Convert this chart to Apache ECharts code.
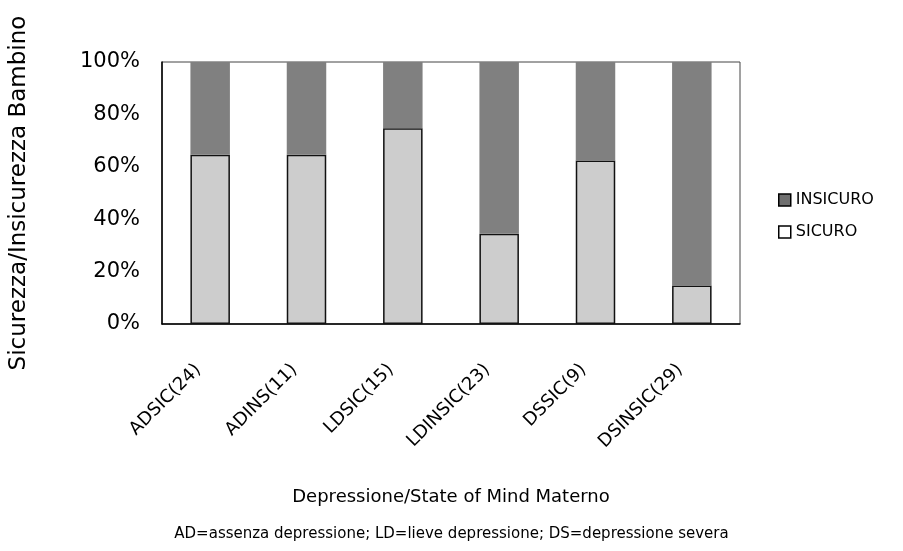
<!DOCTYPE html>
<html>
<head>
<meta charset="utf-8">
<script src="https://cdn.jsdelivr.net/npm/echarts@6/dist/echarts.min.js"></script>
<style>
  html, body { margin: 0; padding: 0; background: #fff; }
  #chart { width: 903px; height: 551px; }
</style>
</head>
<body>
<div id="chart"></div>
<script>
// Groups: maternal depression level x state of mind (sample size in brackets)
const categories = ['ADSIC(24)', 'ADINS(11)', 'LDSIC(15)', 'LDINSIC(23)', 'DSSIC(9)', 'DSINSIC(29)'];
// Share of children classified as secure / insecure (%)
const sicuro   = [64.6, 64.6, 74.7, 34.4, 62.4, 14.7];
const insicuro = [35.4, 35.4, 25.3, 65.6, 37.6, 85.3];
const yTicks = [0, 20, 40, 60, 80, 100];

const FONT = '"DejaVu Sans", sans-serif';
const chart = echarts.init(document.getElementById('chart'), null, { renderer: 'canvas' });

chart.setOption({
  animation: false,
  backgroundColor: '#ffffff',
  textStyle: { fontFamily: FONT, color: '#000' },
  grid: {
    left: 160, right: 163, top: 62, bottom: 227,
    show: true, borderColor: '#444', borderWidth: 1, backgroundColor: 'transparent'
  },
  legend: {
    orient: 'vertical',
    left: 773, top: 187,
    icon: 'rect',
    itemWidth: 12, itemHeight: 12, itemGap: 16,
    textStyle: { fontFamily: FONT, fontSize: 16, color: '#000' },
    data: [
      { name: 'INSICURO', itemStyle: { color: '#6f6f6f', borderColor: '#000', borderWidth: 1.5 } },
      { name: 'SICURO', itemStyle: { color: '#ffffff', borderColor: '#000', borderWidth: 1.5 } }
    ]
  },
  xAxis: {
    type: 'category',
    data: categories,
    name: 'Depressione/State of Mind Materno',
    nameLocation: 'middle',
    nameGap: 164,
    nameTextStyle: { fontFamily: FONT, fontSize: 18, color: '#000' },
    axisLine: { show: true, lineStyle: { color: '#000', width: 1.5 } },
    axisTick: { show: false },
    axisLabel: {
      rotate: 45, margin: 31, padding: [0, 17, 0, 0],
      fontFamily: FONT, fontSize: 18, color: '#000'
    }
  },
  yAxis: {
    type: 'value',
    min: 0, max: 100, interval: 20,
    name: 'Sicurezza/Insicurezza Bambino',
    nameLocation: 'middle',
    nameGap: 131,
    nameTextStyle: { fontFamily: FONT, fontSize: 23, color: '#000' },
    axisLine: { show: true, lineStyle: { color: '#000', width: 1.5 } },
    axisTick: { show: false },
    splitLine: { show: false },
    axisLabel: {
      margin: 22, fontFamily: FONT, fontSize: 21, color: '#000',
      formatter: v => (yTicks.includes(v) ? v + '%' : '')
    }
  },
  series: [
    {
      name: 'SICURO', type: 'bar', stack: 'tot', barWidth: '41%',
      data: sicuro,
      itemStyle: { color: '#cdcdcd', borderColor: '#111', borderWidth: 1.5 }
    },
    {
      name: 'INSICURO', type: 'bar', stack: 'tot', barWidth: '41%',
      data: insicuro,
      itemStyle: { color: '#808080', borderWidth: 0 }
    }
  ],
  graphic: [{
    type: 'text',
    left: 'center',
    top: 527,
    style: {
      text: 'AD=assenza depressione; LD=lieve depressione; DS=depressione severa',
      font: '15px ' + FONT,
      fill: '#000'
    }
  }]
});
</script>
</body>
</html>
